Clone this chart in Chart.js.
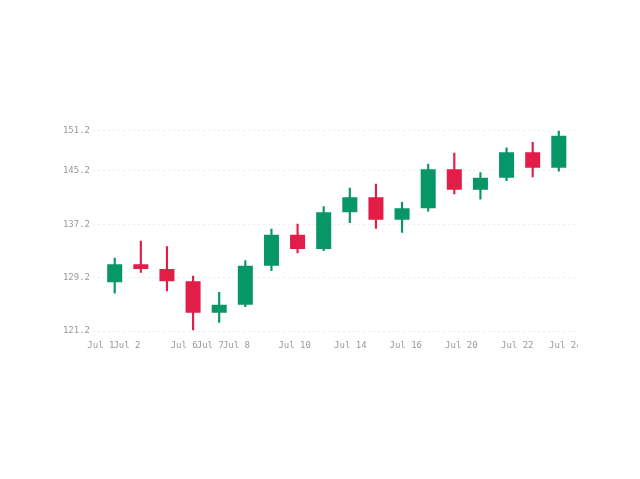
<!DOCTYPE html>
<html>
<head>
<meta charset="utf-8">
<script src="https://cdn.jsdelivr.net/npm/chart.js@4.4.1/dist/chart.umd.min.js"></script>
<style>
  html, body { margin: 0; padding: 0; background: #ffffff; }
  #clip { position: absolute; left: 0; top: 0; width: 578px; height: 479px; overflow: hidden; }
  #box { width: 640px; height: 479px; }
</style>
</head>
<body>
<div id="clip"><div id="box"><canvas id="c" width="640" height="479"></canvas></div></div>
<script>
// Candles (one per trading session, in order)
const openValues  = [128.50, 131.20, 130.50, 128.65, 123.92, 125.15, 130.98, 135.60, 133.48, 138.98, 141.23, 137.87, 139.60, 145.42, 142.36, 144.14, 147.97, 145.66];
const highValues  = [132.13, 134.68, 133.83, 129.44, 127.00, 131.73, 136.48, 137.23, 139.82, 142.62, 143.22, 140.48, 146.21, 147.86, 144.91, 148.65, 149.46, 151.20];
const lowValues   = [126.85, 129.99, 127.19, 121.35, 122.50, 124.84, 130.23, 132.88, 133.23, 137.42, 136.58, 135.98, 139.13, 141.72, 140.93, 143.71, 144.27, 145.12];
const closeValues = [131.20, 130.50, 128.65, 123.92, 125.15, 130.98, 135.60, 133.48, 138.98, 141.23, 137.87, 139.60, 145.42, 142.36, 144.14, 147.97, 145.66, 150.45];

// Date tick labels and where they fall along the candle sequence
const dateTickLabels = ['Jul 1', 'Jul 2', 'Jul 6', 'Jul 7', 'Jul 8', 'Jul 10', 'Jul 14', 'Jul 16', 'Jul 20', 'Jul 22', 'Jul 24'];
const dateTickAt     = [-0.53, 0.47, 2.66, 3.66, 4.66, 6.89, 9.02, 11.14, 13.27, 15.41, 17.25];

// Price axis ticks
const priceTicks = [121.2, 129.2, 137.2, 145.2, 151.2];

const UP = '#069668';
const DOWN = '#e11d48';

const idx = openValues.map((_, i) => i);
const candleColors = idx.map(i => closeValues[i] >= openValues[i] ? UP : DOWN);

const bodies = idx.map(i => ({ x: i, y: [openValues[i], closeValues[i]] }));
const wicks = idx.map(i => ({ x: i, y: [lowValues[i], highValues[i]] }));

const FONT = { family: "'DejaVu Sans Mono', monospace", size: 9 };

new Chart(document.getElementById('c'), {
  type: 'bar',
  data: {
    datasets: [
      {
        label: 'Body',
        data: bodies,
        backgroundColor: candleColors,
        borderWidth: 0,
        borderSkipped: false,
        grouped: false,
        categoryPercentage: 1,
        barPercentage: 0.575,
        order: 0
      },
      {
        label: 'Wick',
        data: wicks,
        backgroundColor: candleColors,
        borderWidth: 0,
        borderSkipped: false,
        grouped: false,
        barThickness: 1.5,
        order: 1
      }
    ]
  },
  options: {
    responsive: false,
    animation: false,
    layout: { padding: { left: 60, right: 65, top: 130.7, bottom: 127.2 } },
    plugins: { legend: { display: false }, tooltip: { enabled: false } },
    scales: {
      x: {
        type: 'linear',
        offset: false,
        min: -0.831,
        max: 17.62,
        grid: { display: false },
        border: { display: false },
        afterBuildTicks: (axis) => { axis.ticks = dateTickAt.map(v => ({ value: v })); },
        afterFit: (axis) => { axis.paddingLeft = 0; axis.paddingRight = 0; },
        ticks: {
          autoSkip: false,
          maxRotation: 0,
          minRotation: 0,
          padding: 1,
          color: '#999999',
          font: FONT,
          callback: (v, i) => dateTickLabels[i]
        }
      },
      y: {
        min: 121.2,
        max: 151.2,
        grid: { color: 'rgba(0,0,0,0.07)', drawTicks: false, lineWidth: 1 },
        border: { display: false, dash: [2, 3] },
        afterBuildTicks: (axis) => { axis.ticks = priceTicks.map(v => ({ value: v })); },
        afterFit: (axis) => { axis.width = 33; },
        ticks: {
          color: '#999999',
          font: FONT,
          padding: 3,
          callback: (v) => v.toFixed(1)
        }
      }
    }
  }
});
</script>
</body>
</html>
